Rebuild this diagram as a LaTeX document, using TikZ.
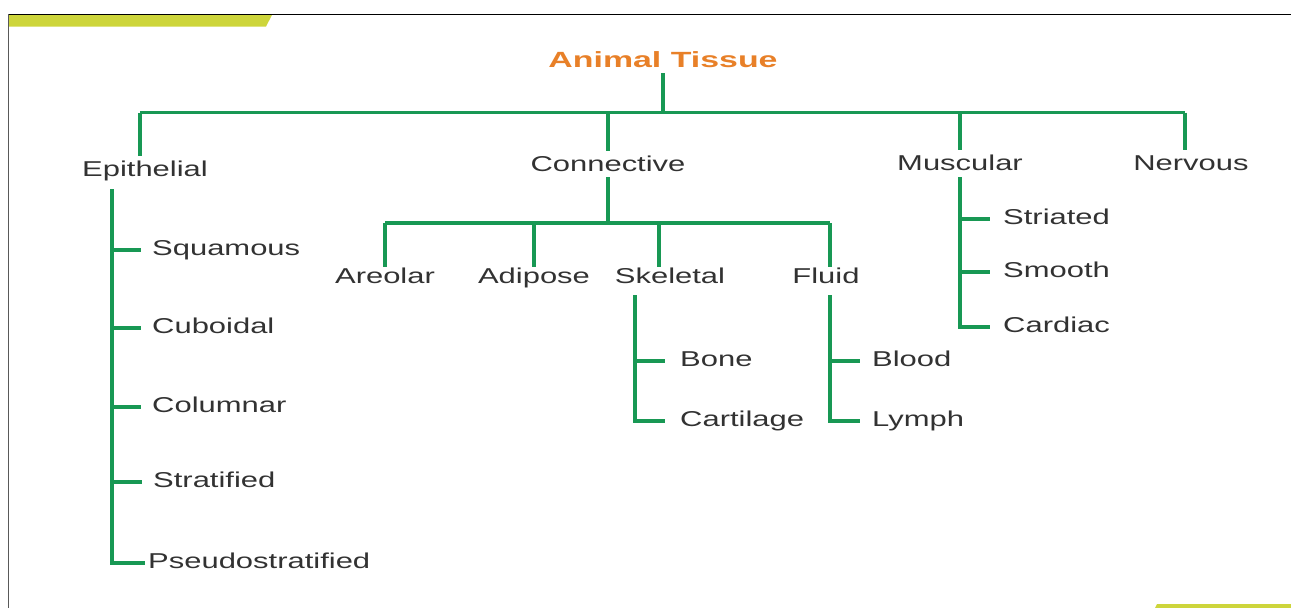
\documentclass[tikz,border=0pt]{standalone}
\usepackage{fontspec}
\setmainfont{Liberation Sans}[FakeStretch=1.44]
\newfontfamily\titlefont{Liberation Sans}[FakeStretch=1.54]
\definecolor{lngreen}{RGB}{24,152,84}
\definecolor{txtgray}{RGB}{50,50,50}
\definecolor{ttlorange}{RGB}{232,128,40}
\definecolor{baryellow}{RGB}{205,213,59}
\begin{document}
\begin{tikzpicture}[x=1pt,y=-1pt,
  ln/.style={draw=lngreen,line width=3.1pt},
  ttl/.style={font=\titlefont\fontsize{22}{26}\selectfont\bfseries,text=ttlorange,inner sep=0pt,text depth=6pt,anchor=base},
  cat/.style={font=\fontsize{21.5}{26}\selectfont,text=txtgray,inner sep=0pt,text height=20pt,text depth=6pt,anchor=base},
  leaf/.style={font=\fontsize{21.5}{26}\selectfont,text=txtgray,inner ysep=0pt,inner xsep=11pt,text height=16pt,text depth=6pt,anchor=base west},
  lv/.style={font=\fontsize{21.5}{26}\selectfont,text=txtgray,inner sep=0pt,text height=16pt,text depth=6pt,anchor=base}]
\useasboundingbox (0,0) rectangle (1291,608);
% frame
\fill[baryellow] (8,15) -- (272,15) -- (266,26.5) -- (8,26.5) -- cycle;
\fill[baryellow] (1157,604) -- (1291,604) -- (1291,608) -- (1155,608) -- cycle;
\draw[black,line width=1.8pt] (8,14.5) -- (1291,14.5);
\draw[black!65,line width=1.8pt] (8.5,14) -- (8.5,608);
% title
\node[ttl] (title) at (663,67) {Animal Tissue};
% categories
\node[cat] (epi) at (145,176) {Epithelial};
\node[cat] (con) at (608,171) {Connective};
\node[cat] (mus) at (960,170) {Muscular};
\node[cat] (ner) at (1191,170) {Nervous};
\coordinate (bar) at (0,112.5);
\coordinate (tEpi) at (140,112.5);
\coordinate (tNer) at (1185,112.5);
\draw[ln] (title.south) -- (title.south |- bar);
\draw[ln] (tEpi) -- (tNer);
\draw[ln] (tEpi) -- (tEpi |- epi.north);
\draw[ln] (con.north |- bar) -- (con.north);
\draw[ln] (mus.north |- bar) -- (mus.north);
\draw[ln] (tNer) -- (tNer |- ner.north);
% epithelial leaves
\node[leaf] (squ) at (141,255) {Squamous};
\node[leaf] (cub) at (141,333) {Cuboidal};
\node[leaf] (col) at (141,412) {Columnar};
\node[leaf] (str) at (142,487) {Stratified};
\node[leaf,inner xsep=3pt] (pse) at (145,568) {Pseudostratified};
\coordinate (epv) at (112,189);
\draw[ln] (epv) |- (pse.west);
\foreach \n in {squ,cub,col,str} \draw[ln] (epv |- \n.west) -- (\n.west);
% connective
\coordinate (cbar) at (0,223);
\node[lv] (are) at (385,283) {Areolar};
\node[lv] (adi) at (534,283) {Adipose};
\node[lv] (ske) at (670,283) {Skeletal};
\node[lv] (flu) at (826,283) {Fluid};
\coordinate (dSke) at (659,223);
\coordinate (dFlu) at (830,223);
\draw[ln] (con.south) -- (con.south |- cbar);
\draw[ln] (are.north |- cbar) -- (dFlu);
\draw[ln] (are.north |- cbar) -- (are.north);
\draw[ln] (adi.north |- cbar) -- (adi.north);
\draw[ln] (dSke) -- (dSke |- ske.north);
\draw[ln] (dFlu) -- (dFlu |- flu.north);
% skeletal leaves
\node[leaf,inner xsep=15pt] (bon) at (665,366) {Bone};
\node[leaf,inner xsep=15pt] (cart) at (665,426) {Cartilage};
\coordinate (skv) at (635,295);
\draw[ln] (skv) |- (cart.west);
\draw[ln] (skv |- bon.west) -- (bon.west);
% fluid leaves
\node[leaf,inner xsep=12pt] (blo) at (860,366) {Blood};
\node[leaf,inner xsep=12pt] (lym) at (860,426) {Lymph};
\coordinate (flv) at (830,295);
\draw[ln] (flv) |- (lym.west);
\draw[ln] (flv |- blo.west) -- (blo.west);
% muscular leaves
\node[leaf,inner xsep=13pt] (sti) at (990,224) {Striated};
\node[leaf,inner xsep=13pt] (smo) at (990,277) {Smooth};
\node[leaf,inner xsep=13pt] (car) at (990,332) {Cardiac};
\coordinate (muv) at (960,177);
\draw[ln] (muv) |- (car.west);
\foreach \n in {sti,smo} \draw[ln] (muv |- \n.west) -- (\n.west);
\end{tikzpicture}
\end{document}
